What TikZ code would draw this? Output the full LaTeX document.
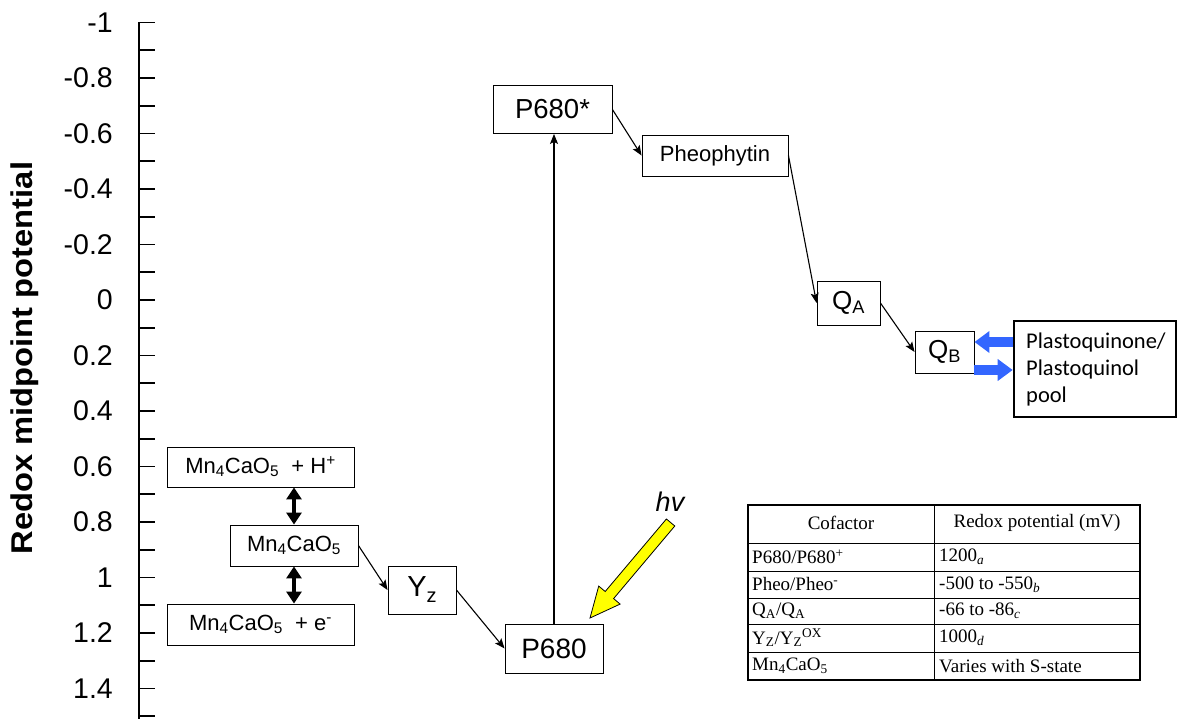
\documentclass[tikz,border=0pt]{standalone}
\usepackage{fontspec}
\setmainfont{Liberation Sans}
\newfontfamily\seriffont{Liberation Serif}
\newfontfamily\calfont{Carlito}
\usetikzlibrary{arrows.meta,calc}
\definecolor{arrblue}{RGB}{51,102,255}
\definecolor{sunyellow}{RGB}{255,255,0}
\begin{document}
\begin{tikzpicture}[x=1pt,y=-1pt,
  box/.style={draw,line width=0.9pt,inner sep=0pt,anchor=center},
  thinarr/.style={line width=1.1pt,-{Stealth[length=10pt,width=8pt,inset=2pt]}},
  dblarr/.style={line width=3.5pt,{Triangle[length=12pt,width=15pt]}-{Triangle[length=12pt,width=15pt]}},
  bluearr/.style={line width=10pt,arrblue,-{Triangle[length=15pt,width=21pt]}},
  ticklab/.style={anchor=east,font=\fontsize{28.5}{30}\selectfont,inner sep=0pt},
  tabtxt/.style={font=\seriffont\fontsize{19}{21}\selectfont,inner sep=0pt,anchor=west}]
\useasboundingbox (0,0) rectangle (1179,719);

% axis
\draw[line width=1.8pt] (139,22.5) -- (139,719);
\foreach \i in {0,...,25}{
  \draw[line width=1.6pt] (139,22.5+27.75*\i) -- (155,22.5+27.75*\i);
}
\foreach \v/\t in {-1/-1,-0.8/-0.8,-0.6/-0.6,-0.4/-0.4,-0.2/-0.2,0/0,0.2/0.2,0.4/0.4,0.6/0.6,0.8/0.8,1/1,1.2/1.2,1.4/1.4}{
  \node[ticklab] at (113,300+277.5*\v) {\t};
}
\node[rotate=90,inner sep=0pt,font=\bfseries\fontsize{30}{31}\selectfont] (ytitle) at (25,358) {\scalebox{1.09}[1]{Redox midpoint potential}};

% nodes
\node[box,minimum width=187,minimum height=40,font=\fontsize{22}{24}\selectfont] (mnH) at (260.5,467) {Mn\textsubscript{4}CaO\textsubscript{5}\ \ + H\textsuperscript{+}};
\node[box,minimum width=128,minimum height=41,font=\fontsize{22}{24}\selectfont] (mn) at (294,545.5) {Mn\textsubscript{4}CaO\textsubscript{5}};
\node[box,minimum width=187,minimum height=41,font=\fontsize{22}{24}\selectfont] (mnE) at (260.5,624.5) {Mn\textsubscript{4}CaO\textsubscript{5}\ \ + e\textsuperscript{-}};
\node[box,minimum width=68,minimum height=48,font=\fontsize{29}{30}\selectfont] (yz) at (422,590) {Y\raisebox{-6pt}{\fontsize{20}{20}\selectfont z}\hspace{16pt}};
\node[box,minimum width=98,minimum height=49,font=\fontsize{28}{30}\selectfont] (p680) at (554,648.5) {P680};
\node[box,minimum width=119,minimum height=48,font=\fontsize{27.5}{29}\selectfont] (p680s) at (552.5,109.5) {P680*};
\node[box,minimum width=146,minimum height=41,font=\fontsize{22}{24}\selectfont] (pheo) at (715,155.5) {Pheophytin\hspace{10pt}};
\node[box,minimum width=63,minimum height=44,font=\fontsize{26}{27}\selectfont] (qa) at (848.5,303) {Q\textsubscript{A}};
\node[box,minimum width=59,minimum height=42,font=\fontsize{26}{27}\selectfont] (qb) at (944.5,352) {Q\textsubscript{B}};
\node[draw,line width=2.6pt,minimum width=162,minimum height=96,inner sep=0pt] (pool) at (1095,369) {};
\node[anchor=north west,inner sep=0pt,align=left,font=\calfont\fontsize{22.5}{27}\selectfont] (pooltxt) at (1026,333) {Plastoquinone/\\Plastoquinol\\pool};

% connectors
\draw[dblarr] (mn.north) -- (mn.north |- mnH.south);
\draw[dblarr] (mn.south) -- (mn.south |- mnE.north);
\draw[thinarr] (mn.east) -- (yz.west);
\draw[thinarr] (yz.east) -- (p680.west);
\draw[thinarr] (p680.north) -- (p680.north |- p680s.south);
\draw[thinarr] (p680s.east) -- (pheo.west);
\draw[thinarr] (pheo.east) -- (qa.west);
\draw[thinarr] (qa.east) -- (qb.west);

\coordinate (q1) at ($(qb.east)+(0,-10)$);
\coordinate (q2) at ($(qb.east)+(0,18)$);
\draw[bluearr] (pool.west |- q1) -- (q1);
\draw[bluearr] (q2) -- (pool.west |- q2);

% light arrow
\draw[line width=0.8pt,fill=sunyellow] (590,618) -- (620.1,604.1) -- (613.6,598.6) -- (674.8,526.0) -- (666.4,519.0) -- (605.2,591.5) -- (598.7,586.1) -- cycle;
\node[font=\itshape\fontsize{27}{28}\selectfont,inner sep=0pt] (hv) at (670,502) {hv};

% table
\draw[line width=1.3pt] (748,505) rectangle (1140,680);
\draw[line width=1pt] (934,505) -- (934,680);
\foreach \yy in {543,571,598,624,652}{ \draw[line width=1pt] (748,\yy) -- (1140,\yy); }
\node[tabtxt,anchor=center] (th1) at (841,523) {Cofactor};
\node[tabtxt,anchor=center] (th2) at (1037,523) {Redox potential (mV)};
\node[tabtxt] (r1a) at (752,557) {P680/P680\textsuperscript{+}};
\node[tabtxt] (r1b) at (939,557) {1200\textsubscript{\textit{a}}};
\node[tabtxt] (r2a) at (752,584.5) {Pheo/Pheo\textsuperscript{-}};
\node[tabtxt] (r2b) at (939,584.5) {-500 to -550\textsubscript{\textit{b}}};
\node[tabtxt] (r3a) at (752,611) {Q\textsubscript{A}/Q\textsubscript{A}};
\node[tabtxt] (r3b) at (939,611) {-66 to -86\textsubscript{\textit{c}}};
\node[tabtxt] (r4a) at (752,638) {Y\textsubscript{Z}/Y\textsubscript{Z}\textsuperscript{OX}};
\node[tabtxt] (r4b) at (939,638) {1000\textsubscript{\textit{d}}};
\node[tabtxt] (r5a) at (752,666) {Mn\textsubscript{4}CaO\textsubscript{5}};
\node[tabtxt] (r5b) at (939,666) {Varies with S-state};
\end{tikzpicture}
\end{document}
